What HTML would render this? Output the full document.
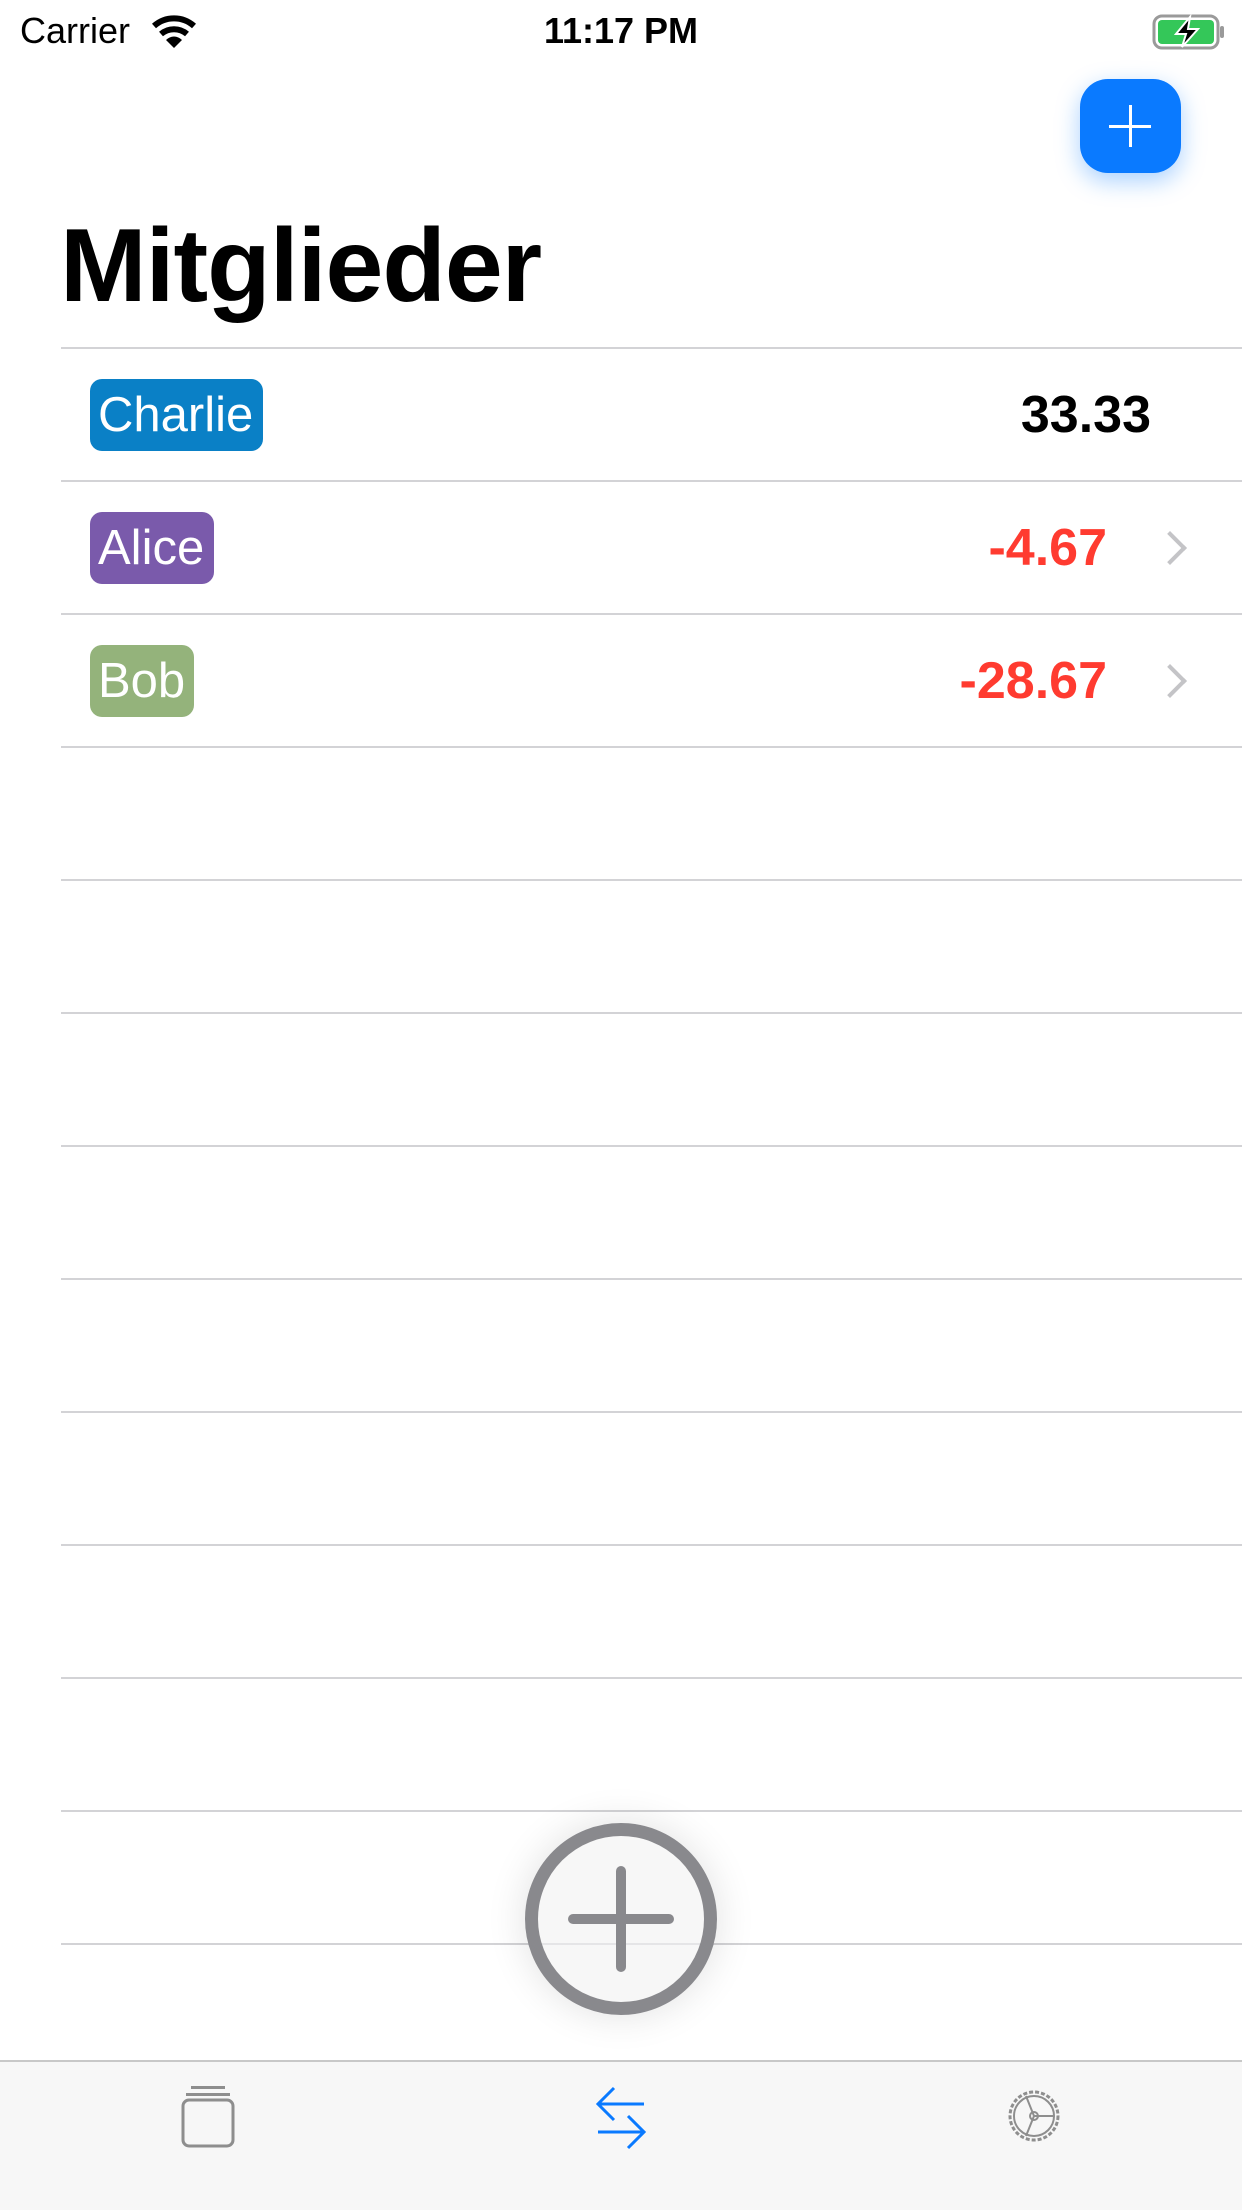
<!DOCTYPE html>
<html><head><meta charset="utf-8">
<style>
html,body{margin:0;padding:0;background:#fff;}
body{width:1242px;height:2208px;position:relative;overflow:hidden;font-family:"Liberation Sans",sans-serif;}
.abs{position:absolute;}
.sep{position:absolute;left:61px;right:0;height:2px;background:#d3d3d6;}
.tag{position:absolute;left:90px;height:72px;border-radius:12px;color:#fff;font-size:49px;line-height:72px;padding:0 8px;box-sizing:border-box;}
.val{position:absolute;font-size:52px;font-weight:bold;line-height:72px;text-align:right;}
.chev{position:absolute;left:1158px;width:20px;height:20px;border-right:4px solid #c4c4c7;border-top:4px solid #c4c4c7;transform:rotate(45deg);}
</style></head><body>
<div class="abs" style="left:20px;top:8px;font-size:36px;line-height:46px;">Carrier</div>
<svg class="abs" style="left:150px;top:12px" width="48" height="40" viewBox="0 0 48 40">
<path d="M4 14 A30 30 0 0 1 44 14" stroke="#000" stroke-width="6" fill="none"/>
<path d="M11 22 A20 20 0 0 1 37 22" stroke="#000" stroke-width="6" fill="none"/>
<path d="M24 36 L16 28 A11 11 0 0 1 32 28 Z" fill="#000"/></svg>
<div class="abs" style="left:0;width:1242px;text-align:center;top:8px;font-size:36px;font-weight:bold;line-height:46px;">11:17 PM</div>
<svg class="abs" style="left:1152px;top:14px" width="74" height="36" viewBox="0 0 74 36">
<rect x="2" y="2" width="64" height="32" rx="8" fill="none" stroke="#9a9a9a" stroke-width="3"/>
<rect x="6" y="6" width="56" height="24" rx="4" fill="#34c759"/>
<rect x="68" y="12" width="4" height="12" rx="2" fill="#9a9a9a"/>
<path d="M38 3 L24 20 L34 20 L30 33 L46 15 L36 15 Z" fill="#000" stroke="#fff" stroke-width="2"/></svg>

<div class="abs" style="left:1080px;top:79px;width:101px;height:94px;border-radius:28px;background:#0a7aff;box-shadow:0 8px 24px rgba(10,122,255,0.35);">
<div class="abs" style="left:49px;top:26px;width:3px;height:42px;background:#fff"></div>
<div class="abs" style="left:29px;top:46px;width:42px;height:3px;background:#fff"></div></div>

<div class="abs" style="left:60px;top:206px;font-size:104px;font-weight:bold;line-height:120px;letter-spacing:-1px;">Mitglieder</div>

<div class="sep" style="top:347px"></div><div class="sep" style="top:480px"></div><div class="sep" style="top:613px"></div><div class="sep" style="top:746px"></div><div class="sep" style="top:879px"></div><div class="sep" style="top:1012px"></div><div class="sep" style="top:1145px"></div><div class="sep" style="top:1278px"></div><div class="sep" style="top:1411px"></div><div class="sep" style="top:1544px"></div><div class="sep" style="top:1677px"></div><div class="sep" style="top:1810px"></div><div class="sep" style="top:1943px"></div>

<div>
<div class="tag" style="top:379px;width:173px;background:#0a80c6;">Charlie</div>
<div class="val" style="right:91px;top:379px;color:#000;">33.33</div></div>
<div>
<div class="tag" style="top:512px;width:124px;background:#7a5aab;">Alice</div>
<div class="val" style="right:135px;top:512px;color:#ff3b30;">-4.67</div>
<div class="chev" style="top:536px"></div></div>
<div>
<div class="tag" style="top:645px;width:104px;background:#94b37b;">Bob</div>
<div class="val" style="right:135px;top:645px;color:#ff3b30;">-28.67</div>
<div class="chev" style="top:669px"></div></div>

<div class="abs" style="left:525px;top:1823px;width:192px;height:192px;border-radius:50%;box-sizing:border-box;border:13px solid #89898d;background:rgba(242,242,242,0.6);box-shadow:0 0 40px rgba(0,0,0,0.12);">
<div class="abs" style="left:78px;top:30px;width:10px;height:106px;border-radius:5px;background:#89898d"></div>
<div class="abs" style="left:30px;top:78px;width:106px;height:10px;border-radius:5px;background:#89898d"></div></div>

<div class="abs" style="left:0;top:2060px;width:1242px;height:148px;background:#f7f7f7;border-top:2px solid #c8c8c8;"></div>
<svg class="abs" style="left:180px;top:2085px" width="56" height="64" viewBox="0 0 56 64">
<rect x="11" y="1" width="34" height="3" fill="#8e8e8e"/><rect x="6" y="8" width="44" height="3" fill="#8e8e8e"/>
<rect x="3" y="15" width="50" height="46" rx="6" fill="none" stroke="#8e8e8e" stroke-width="3"/></svg>
<svg class="abs" style="left:594px;top:2086px" width="54" height="64" viewBox="0 0 54 64">
<g stroke="#0a7aff" stroke-width="3" fill="none"><path d="M50 18 H4 M20 2 L4 18 L20 34"/><path d="M4 46 H50 M34 30 L50 46 L34 62"/></g></svg>
<svg class="abs" style="left:1004px;top:2086px" width="60" height="60" viewBox="0 0 60 60">
<circle cx="30" cy="30" r="24" fill="none" stroke="#8e8e8e" stroke-width="3" stroke-dasharray="4 2"/><circle cx="30" cy="30" r="20" fill="none" stroke="#8e8e8e" stroke-width="2"/>
<circle cx="30" cy="30" r="4" fill="none" stroke="#8e8e8e" stroke-width="2"/>
<path d="M30 30 L22 10 M30 30 L50 30 M30 30 L22 50" stroke="#8e8e8e" stroke-width="2"/></svg>
</body></html>
